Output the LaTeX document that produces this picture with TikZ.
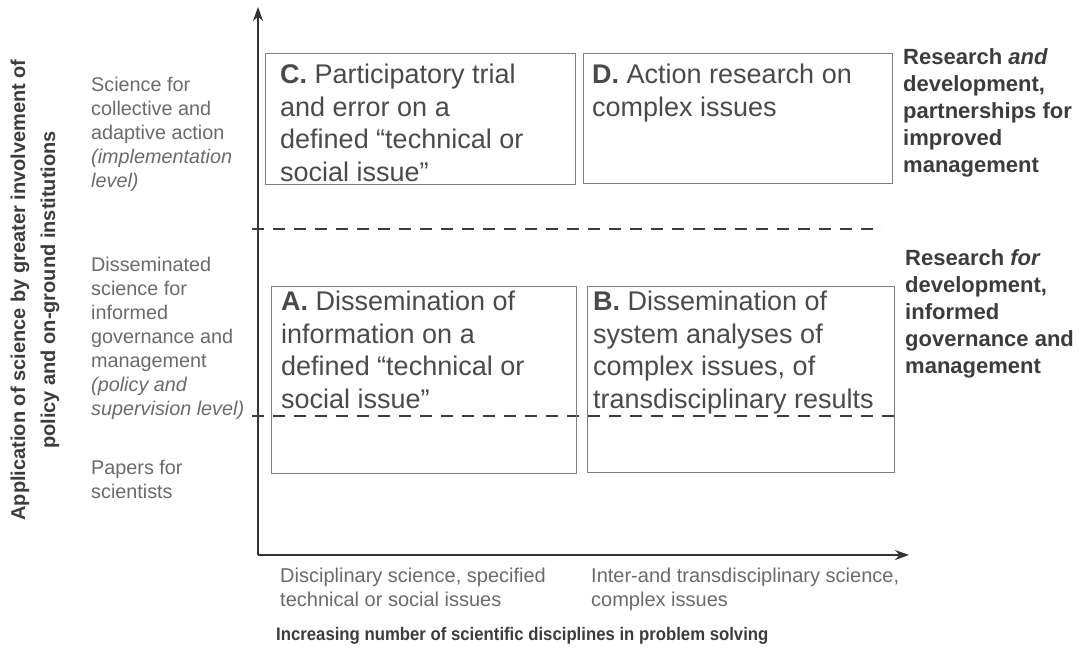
\documentclass[tikz,border=0pt]{standalone}
\usepackage{fontspec}
\setmainfont{Liberation Sans}
\newfontfamily\condsans[FakeStretch=0.92]{Liberation Sans}
\usetikzlibrary{arrows.meta}
\definecolor{axisc}{HTML}{333333}
\definecolor{boxc}{HTML}{808080}
\definecolor{lbl}{HTML}{6A6A6A}
\definecolor{dark}{HTML}{3C3C3C}
\definecolor{boxtxt}{HTML}{4A4A4A}
\begin{document}
\begin{tikzpicture}[x=1pt,y=-1pt,
  axis/.style={draw=axisc,line width=1.8pt,-{Stealth[length=14pt,width=10pt]}},
  quad/.style={draw=boxc,line width=1.2pt,rectangle,anchor=north west,inner sep=0pt},
  quadtext/.style={anchor=north west,inner sep=0pt,align=left,text=boxtxt,
    font=\fontsize{27}{32.5}\selectfont},
  side/.style={anchor=north west,inner sep=0pt,align=left,text=lbl,
    font=\fontsize{19.8}{24}\selectfont},
  rside/.style={anchor=north west,inner sep=0pt,align=left,text=dark,
    font=\fontsize{22}{27}\selectfont\bfseries},
  bottom/.style={anchor=north west,inner sep=0pt,align=left,text=lbl,
    font=\fontsize{20}{24}\selectfont},
  divider/.style={draw=dark,line width=1.5pt,dash pattern=on 12pt off 9pt}]
\useasboundingbox (0,0) rectangle (1086,653);

% axes
\coordinate (O) at (258,555);
\coordinate (ytip) at (258,7);
\coordinate (xtip) at (909,555);
\draw[axis] (O) -- (ytip);
\draw[axis] (O) -- (xtip);

% horizontal dividers between the levels
\coordinate (d1a) at (252,229);
\coordinate (d1b) at (882,229);
\coordinate (d2a) at (252,416);
\coordinate (d2b) at (896,416);
\draw[divider] (d1a) -- (d1b);
\draw[divider] (d2a) -- (d2b);

% the four quadrant boxes
\node[quad,minimum width=310pt,minimum height=131pt] (C) at (265,53) {};
\node[quad,minimum width=309pt,minimum height=130pt] (D) at (583,53) {};
\node[quad,minimum width=305pt,minimum height=187pt] (A) at (271,286) {};
\node[quad,minimum width=307pt,minimum height=186pt] (B) at (587,286) {};

\node[quadtext] (Ct) at ([shift={(15,11)}]C.north west)
  {\textbf{C.} Participatory trial\\and error on a\\defined “technical or\\social issue”};
\node[quadtext] (Dt) at ([shift={(9,11)}]D.north west)
  {\textbf{D.} Action research on\\complex issues};
\node[quadtext] (At) at ([shift={(10,5)}]A.north west)
  {\textbf{A.} Dissemination of\\information on a\\defined “technical or\\social issue”};
\node[quadtext] (Bt) at ([shift={(6,5)}]B.north west)
  {\textbf{B.} Dissemination of\\system analyses of\\complex issues, of\\transdisciplinary results};

% levels along the vertical axis
\node[side] (lv3) at (91,77)
  {Science for\\collective and\\adaptive action\\\textit{(implementation}\\\textit{level)}};
\node[side] (lv2) at (91,257)
  {Disseminated\\science for\\informed\\governance and\\management\\\textit{(policy and}\\\textit{supervision level)}};
\node[side] (lv1) at (91,460) {Papers for\\scientists};

% research modes on the right
\node[rside] (rd1) at (903,48)
  {Research \textit{and}\\development,\\partnerships for\\improved\\management};
\node[rside] (rd2) at (905,249)
  {Research \textit{for}\\development,\\informed\\governance and\\management};

% labels along the horizontal axis
\node[bottom] (bx1) at (280,568) {Disciplinary science, specified\\technical or social issues};
\node[bottom] (bx2) at (591,568) {Inter-and transdisciplinary science,\\complex issues};
\node[anchor=north west,inner sep=0pt,text=dark,font=\condsans\fontsize{18.2}{22}\selectfont\bfseries] (xt)
  at (276,627) {Increasing number of scientific disciplines in problem solving};

% vertical axis title
\node[rotate=90,align=center,inner sep=0pt,text=dark,
  font=\fontsize{20}{30}\selectfont\bfseries] (yt) at (35,290)
  {Application of science by greater involvement of\\policy and on-ground institutions};
\end{tikzpicture}
\end{document}
